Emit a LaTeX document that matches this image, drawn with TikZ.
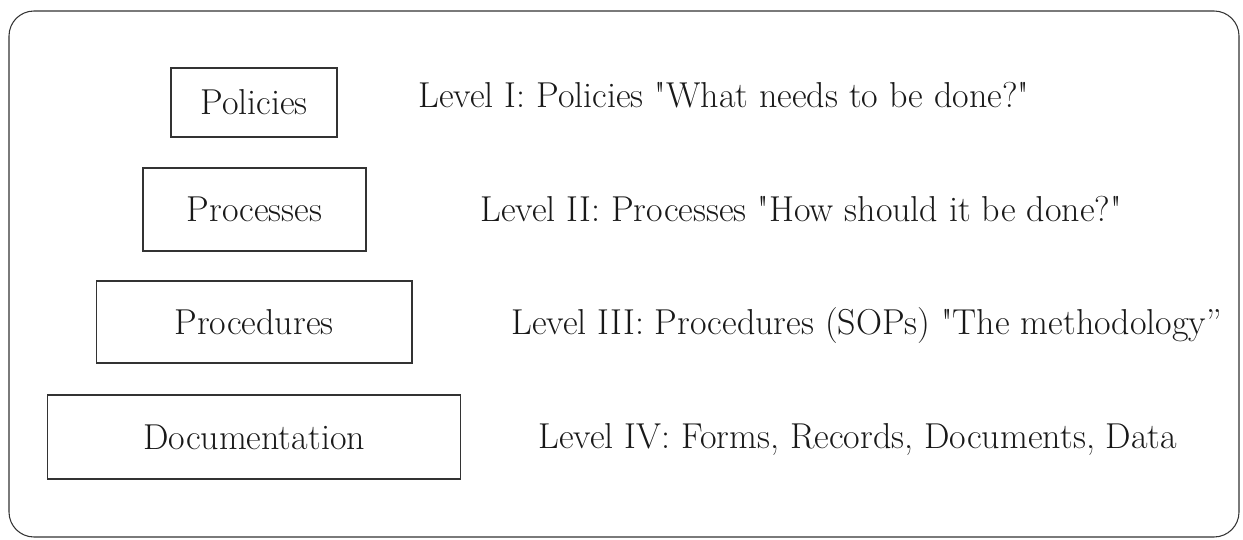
\documentclass[tikz,border=0pt]{standalone}
\usepackage{amsmath}
\usepackage{fontspec}
\setmainfont{Latin Modern Roman}[Ligatures=TeXOff]
\usepackage{tikz}
\usetikzlibrary{positioning}

\begin{document}
\begin{tikzpicture}[x=0.02cm,y=-0.02cm,
	level/.style={draw=black!80, semithick, text=black!90, font=\fontsize{20.5}{24}\selectfont},
	lbl/.style={anchor=base west, inner sep=0pt, text=black!90, font=\fontsize{20.5}{24}\selectfont}]
\useasboundingbox (0,0) rectangle (1243,540);
\draw[black!80, semithick, rounded corners=0.5cm] (9,11) rectangle (1239,537);
% boxes
\node[level, minimum width=3.32cm, minimum height=1.38cm] (P1) at (254,102.5) {Policies};
\node[level, minimum width=4.46cm, minimum height=1.66cm] (P2) at (254.5,209.5) {Processes};
\node[level, minimum width=6.32cm, minimum height=1.64cm] (P3) at (254,322) {Procedures};
\node[level, minimum width=8.28cm, minimum height=1.68cm] (P4) at (254,437) {Documentation};
% descriptions
\node[lbl] (L1) at (418,108) {Level I: Policies "What needs to be done?"};
\node[lbl] (L2) at (480,222) {Level II: Processes "How should it be done?"};
\node[lbl] (L3) at (511,335) {Level III: Procedures (SOPs) "The methodology”};
\node[lbl] (L4) at (538,448) {Level IV: Forms, Records, Documents, Data};
\end{tikzpicture}
\end{document}
